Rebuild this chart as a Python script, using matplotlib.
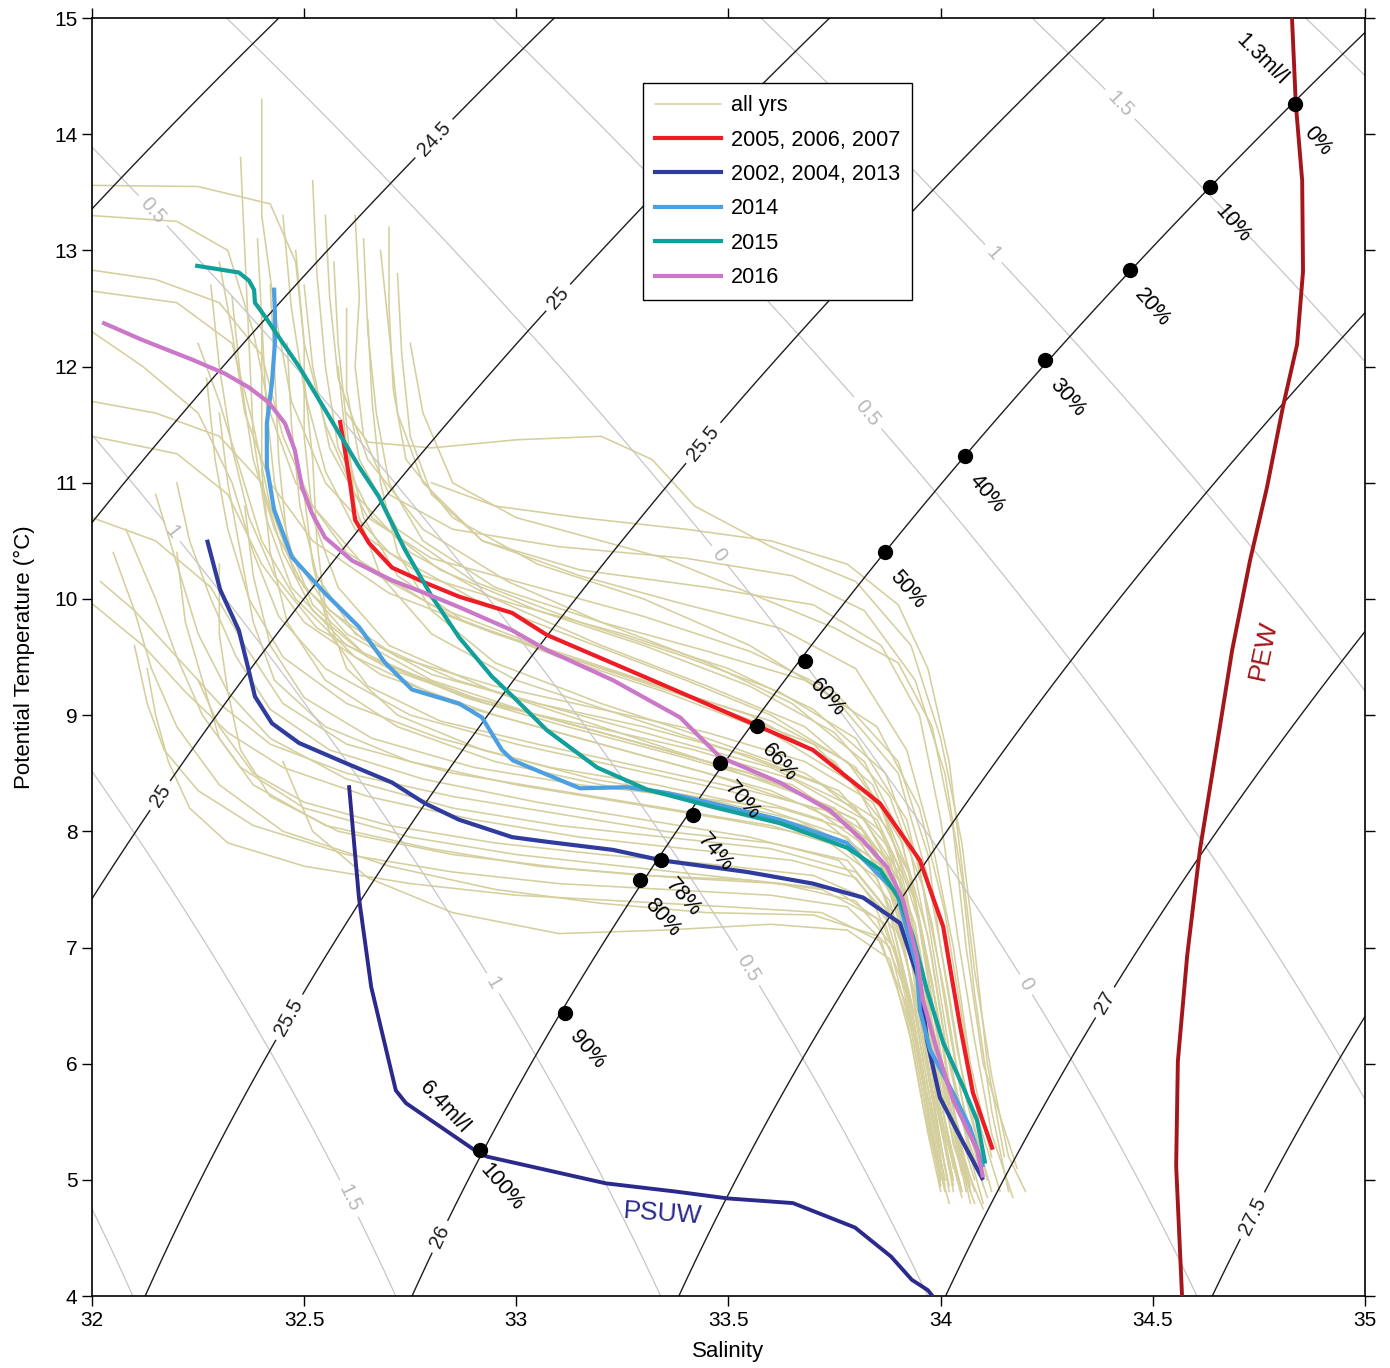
import numpy as np
import matplotlib
matplotlib.use("Agg")
import matplotlib.pyplot as plt
from matplotlib.lines import Line2D

plt.rcParams['font.family'] = ['Liberation Sans', 'DejaVu Sans']

# ---- data (salinity, potential temperature) ----
# all-years profiles, one list of (S, T) per profile
all_yrs = [
    # upper group
    [(32.62, 13.3), (32.63, 12.6), (32.62, 12.0), (32.64, 11.4), (32.70, 10.9), (32.85, 10.6), (33.1, 10.45),
     (33.4, 10.35), (33.65, 10.2), (33.82, 9.9), (33.94, 9.3), (34.01, 8.5), (34.05, 7.6), (34.08, 6.6),
     (34.12, 5.6), (34.16, 4.9)],
    [(32.6, 11.6), (32.65, 11.35), (32.8, 11.3), (33.0, 11.37), (33.2, 11.4), (33.32, 11.2), (33.42, 10.8),
     (33.6, 10.45), (33.8, 10.15), (33.93, 9.6), (34.0, 8.8), (34.05, 7.9), (34.08, 7.0), (34.11, 6.0),
     (34.15, 5.2)],
    [(32.68, 13.0), (32.7, 12.3), (32.72, 11.6), (32.78, 11.0), (32.92, 10.5), (33.15, 10.2), (33.4, 9.95),
     (33.62, 9.75), (33.8, 9.4), (33.92, 8.7), (33.98, 7.9), (34.03, 7.0), (34.07, 6.0), (34.12, 5.2)],
    [(32.5, 12.7), (32.52, 12.0), (32.56, 11.3), (32.65, 10.7), (32.8, 10.35), (33.05, 10.1), (33.3, 9.85),
     (33.55, 9.55), (33.75, 9.2), (33.9, 8.6), (33.97, 7.8), (34.0, 7.0), (34.04, 6.1), (34.09, 5.3),
     (34.12, 4.9)],
    [(32.45, 13.3), (32.47, 12.5), (32.5, 11.8), (32.55, 11.1), (32.62, 10.6), (32.78, 10.2), (33.0, 9.95),
     (33.25, 9.7), (33.5, 9.4), (33.7, 9.05), (33.87, 8.5), (33.95, 7.7), (33.99, 6.8), (34.03, 5.9),
     (34.08, 5.1)],
    [(32.75, 12.2), (32.78, 11.6), (32.85, 11.0), (33.0, 10.7), (33.2, 10.5), (33.35, 10.35), (33.55, 10.05),
     (33.75, 9.75), (33.9, 9.45), (33.98, 8.9), (34.03, 8.0), (34.06, 7.0), (34.1, 6.0), (34.18, 5.1)],
    [(32.8, 11.0), (32.95, 10.8), (33.15, 10.7), (33.4, 10.6), (33.6, 10.5), (33.78, 10.3), (33.9, 9.95),
     (33.97, 9.4), (34.02, 8.6), (34.05, 7.7), (34.08, 6.8), (34.12, 5.9), (34.16, 5.2), (34.2, 4.9)],
    [(32.72, 12.8), (32.73, 12.1), (32.75, 11.4), (32.8, 10.9), (32.92, 10.5), (33.15, 10.25), (33.45, 10.1),
     (33.7, 9.95), (33.86, 9.6), (33.95, 9.0), (34.0, 8.1), (34.04, 7.1), (34.08, 6.2), (34.12, 5.4),
     (34.17, 4.85)],
    [(32.64, 13.1), (32.65, 12.3), (32.67, 11.6), (32.7, 11.0), (32.78, 10.5), (32.95, 10.1), (33.2, 9.8),
     (33.45, 9.55), (33.68, 9.3), (33.85, 8.9), (33.95, 8.2), (34.01, 7.3), (34.05, 6.4), (34.09, 5.5),
     (34.14, 4.9)],
    # upper-middle group
    [(32.0, 13.56), (32.25, 13.55), (32.42, 13.4), (32.48, 12.9), (32.5, 12.2), (32.55, 11.5), (32.62, 10.9),
     (32.75, 10.4), (32.95, 10.0), (33.2, 9.6), (33.45, 9.25), (33.68, 8.9), (33.84, 8.4), (33.93, 7.6),
     (33.98, 6.7), (34.02, 5.8), (34.06, 5.0)],
    [(32.0, 13.3), (32.2, 13.25), (32.32, 13.0), (32.38, 12.3), (32.42, 11.6), (32.48, 11.0), (32.6, 10.4),
     (32.8, 9.95), (33.05, 9.6), (33.3, 9.3), (33.55, 9.0), (33.75, 8.6), (33.88, 8.0), (33.95, 7.2),
     (34.0, 6.3), (34.04, 5.4), (34.07, 4.9)],
    [(32.4, 14.3), (32.4, 13.3), (32.43, 12.5), (32.47, 11.7), (32.55, 11.0), (32.7, 10.4), (32.9, 10.0),
     (33.15, 9.65), (33.4, 9.3), (33.6, 9.0), (33.8, 8.55), (33.91, 7.9), (33.96, 7.0), (34.0, 6.1),
     (34.04, 5.3), (34.07, 4.8)],
    [(32.55, 13.3), (32.56, 12.6), (32.58, 11.9), (32.65, 11.2), (32.78, 10.6), (32.98, 10.15), (33.2, 9.8),
     (33.45, 9.45), (33.65, 9.1), (33.82, 8.6), (33.93, 7.8), (33.98, 6.9), (34.02, 6.0), (34.07, 5.2),
     (34.1, 4.8)],
    [(32.0, 12.83), (32.15, 12.75), (32.3, 12.55), (32.4, 12.1), (32.45, 11.4), (32.52, 10.8), (32.65, 10.25),
     (32.85, 9.85), (33.1, 9.5), (33.35, 9.2), (33.6, 8.85), (33.8, 8.4), (33.9, 7.7), (33.95, 6.8),
     (33.99, 5.9), (34.03, 5.1)],
    [(32.3, 12.9), (32.33, 12.3), (32.36, 11.6), (32.42, 11.0), (32.52, 10.5), (32.7, 10.05), (32.95, 9.7),
     (33.2, 9.4), (33.45, 9.1), (33.7, 8.75), (33.86, 8.2), (33.94, 7.4), (33.98, 6.5), (34.02, 5.6),
     (34.06, 4.9)],
    [(32.6, 12.5), (32.6, 11.8), (32.63, 11.2), (32.72, 10.6), (32.9, 10.15), (33.15, 9.8), (33.4, 9.5),
     (33.62, 9.2), (33.8, 8.8), (33.92, 8.1), (33.98, 7.2), (34.02, 6.3), (34.06, 5.5), (34.1, 5.0)],
    [(32.7, 13.2), (32.7, 12.5), (32.71, 11.8), (32.74, 11.2), (32.85, 10.7), (33.05, 10.3), (33.3, 10.0),
     (33.55, 9.6), (33.75, 9.15), (33.9, 8.5), (33.97, 7.6), (34.02, 6.6), (34.06, 5.7), (34.11, 5.0)],
    [(32.52, 13.6), (32.53, 12.8), (32.55, 12.0), (32.58, 11.3), (32.66, 10.7), (32.82, 10.25), (33.05, 9.9),
     (33.3, 9.6), (33.55, 9.25), (33.75, 8.85), (33.88, 8.3), (33.96, 7.5), (34.01, 6.6), (34.05, 5.7),
     (34.1, 4.95)],
    [(32.58, 12.0), (32.6, 11.3), (32.64, 10.7), (32.72, 10.2), (32.88, 9.8), (33.12, 9.5), (33.38, 9.2),
     (33.6, 8.95), (33.78, 8.6), (33.9, 8.0), (33.97, 7.1), (34.01, 6.2), (34.06, 5.4), (34.11, 4.85)],
    [(32.39, 13.1), (32.4, 12.4), (32.41, 11.7), (32.43, 11.0), (32.47, 10.4), (32.56, 9.9), (32.72, 9.5),
     (32.95, 9.25), (33.2, 9.05), (33.45, 8.85), (33.68, 8.6), (33.84, 8.25), (33.93, 7.6), (33.98, 6.7),
     (34.02, 5.8), (34.07, 4.95)],
    # middle group
    [(32.0, 12.65), (32.2, 12.55), (32.33, 12.2), (32.38, 11.5), (32.42, 10.8), (32.48, 10.2), (32.6, 9.7),
     (32.8, 9.3), (33.05, 9.0), (33.3, 8.75), (33.55, 8.5), (33.75, 8.2), (33.87, 7.7), (33.93, 6.9),
     (33.97, 6.0), (34.0, 5.2)],
    [(32.0, 11.7), (32.15, 11.6), (32.3, 11.4), (32.4, 11.0), (32.45, 10.4), (32.52, 9.9), (32.65, 9.5),
     (32.9, 9.15), (33.15, 8.9), (33.4, 8.65), (33.65, 8.4), (33.82, 8.0), (33.92, 7.3), (33.97, 6.4),
     (34.01, 5.5), (34.05, 4.9)],
    [(32.35, 13.8), (32.36, 13.0), (32.37, 12.2), (32.38, 11.4), (32.41, 10.7), (32.47, 10.1), (32.6, 9.6),
     (32.85, 9.2), (33.1, 8.95), (33.35, 8.7), (33.6, 8.45), (33.8, 8.1), (33.9, 7.5), (33.95, 6.6),
     (33.99, 5.7), (34.03, 5.0)],
    [(32.48, 13.0), (32.5, 12.2), (32.5, 11.4), (32.52, 10.7), (32.58, 10.1), (32.7, 9.6), (32.95, 9.2),
     (33.2, 8.9), (33.45, 8.6), (33.68, 8.3), (33.84, 7.9), (33.93, 7.1), (33.97, 6.2), (34.01, 5.4),
     (34.05, 4.85)],
    [(32.25, 12.2), (32.3, 11.7), (32.35, 11.1), (32.4, 10.5), (32.48, 10.0), (32.62, 9.5), (32.85, 9.1),
     (33.1, 8.85), (33.35, 8.6), (33.6, 8.35), (33.78, 8.05), (33.89, 7.5), (33.95, 6.6), (33.99, 5.7),
     (34.04, 5.0)],
    [(32.57, 12.9), (32.58, 12.2), (32.6, 11.5), (32.62, 10.8), (32.68, 10.2), (32.8, 9.7), (33.0, 9.3),
     (33.25, 9.0), (33.5, 8.7), (33.72, 8.4), (33.86, 8.0), (33.94, 7.2), (33.98, 6.3), (34.03, 5.5),
     (34.08, 4.9)],
    [(32.0, 11.4), (32.2, 11.25), (32.32, 10.9), (32.4, 10.3), (32.5, 9.8), (32.68, 9.35), (32.95, 9.0),
     (33.2, 8.75), (33.45, 8.5), (33.7, 8.2), (33.85, 7.8), (33.93, 7.0), (33.97, 6.1), (34.01, 5.3),
     (34.03, 4.9)],
    [(32.65, 12.4), (32.66, 11.7), (32.68, 11.0), (32.72, 10.4), (32.8, 9.9), (32.95, 9.45), (33.2, 9.1),
     (33.45, 8.8), (33.68, 8.5), (33.85, 8.1), (33.94, 7.4), (33.99, 6.5), (34.03, 5.6), (34.08, 5.0)],
    [(32.42, 12.7), (32.43, 12.0), (32.44, 11.2), (32.46, 10.5), (32.52, 9.95), (32.65, 9.5), (32.88, 9.15),
     (33.12, 8.9), (33.38, 8.65), (33.62, 8.4), (33.8, 8.1), (33.9, 7.6), (33.96, 6.7), (34.0, 5.8),
     (34.05, 5.05)],
    [(32.33, 12.6), (32.35, 11.9), (32.38, 11.2), (32.43, 10.6), (32.5, 10.1), (32.64, 9.65), (32.86, 9.3),
     (33.1, 9.05), (33.35, 8.8), (33.6, 8.55), (33.8, 8.2), (33.91, 7.6), (33.96, 6.8), (34.0, 5.9),
     (34.06, 5.0)],
    [(32.46, 12.2), (32.47, 11.5), (32.49, 10.8), (32.53, 10.2), (32.62, 9.7), (32.8, 9.35), (33.05, 9.1),
     (33.3, 8.9), (33.55, 8.65), (33.76, 8.35), (33.88, 7.85), (33.95, 7.0), (33.99, 6.1), (34.03, 5.3),
     (34.08, 4.8)],
    [(32.28, 12.7), (32.3, 12.0), (32.33, 11.3), (32.37, 10.7), (32.43, 10.2), (32.53, 9.75), (32.7, 9.4),
     (32.93, 9.1), (33.18, 8.9), (33.42, 8.7), (33.65, 8.45), (33.82, 8.1), (33.92, 7.45), (33.97, 6.5),
     (34.02, 5.6), (34.07, 4.9)],
    [(32.0, 12.3), (32.12, 12.0), (32.25, 11.6), (32.33, 11.0), (32.38, 10.4), (32.44, 9.85), (32.55, 9.4),
     (32.75, 9.0), (33.0, 8.75), (33.25, 8.55), (33.5, 8.35), (33.72, 8.1), (33.86, 7.7), (33.93, 6.9),
     (33.97, 6.0), (34.01, 5.1)],
    # lower-middle group
    [(32.0, 10.7), (32.15, 10.5), (32.28, 10.1), (32.36, 9.6), (32.45, 9.1), (32.6, 8.75), (32.85, 8.5),
     (33.1, 8.35), (33.35, 8.2), (33.6, 8.05), (33.78, 7.85), (33.88, 7.4), (33.94, 6.6), (33.98, 5.8),
     (34.02, 5.1)],
    [(32.02, 10.15), (32.1, 9.9), (32.2, 9.5), (32.3, 9.1), (32.42, 8.75), (32.6, 8.5), (32.85, 8.3),
     (33.1, 8.15), (33.35, 8.0), (33.6, 7.9), (33.78, 7.75), (33.88, 7.3), (33.93, 6.5), (33.97, 5.7),
     (34.01, 5.0)],
    [(32.3, 11.6), (32.32, 11.0), (32.35, 10.4), (32.38, 9.8), (32.43, 9.3), (32.55, 8.9), (32.75, 8.6),
     (33.0, 8.4), (33.25, 8.25), (33.5, 8.1), (33.72, 7.95), (33.85, 7.6), (33.92, 6.9), (33.96, 6.0),
     (34.0, 5.2)],
    [(32.4, 12.5), (32.4, 11.8), (32.4, 11.1), (32.42, 10.4), (32.46, 9.8), (32.55, 9.3), (32.72, 8.9),
     (32.95, 8.6), (33.2, 8.4), (33.45, 8.25), (33.68, 8.05), (33.83, 7.75), (33.91, 7.1), (33.95, 6.3),
     (33.99, 5.5), (34.02, 4.95)],
    [(32.5, 11.9), (32.52, 11.2), (32.53, 10.5), (32.55, 9.9), (32.6, 9.4), (32.72, 9.0), (32.92, 8.7),
     (33.18, 8.45), (33.42, 8.3), (33.66, 8.1), (33.83, 7.8), (33.92, 7.2), (33.97, 6.3), (34.01, 5.5),
     (34.05, 4.9)],
    [(32.2, 11.0), (32.23, 10.5), (32.28, 10.0), (32.34, 9.5), (32.42, 9.05), (32.56, 8.7), (32.78, 8.45),
     (33.05, 8.25), (33.3, 8.1), (33.55, 7.95), (33.76, 7.75), (33.87, 7.3), (33.93, 6.5), (33.97, 5.6),
     (34.0, 4.95)],
    [(32.0, 9.96), (32.12, 9.6), (32.22, 9.2), (32.32, 8.85), (32.45, 8.55), (32.65, 8.3), (32.9, 8.1),
     (33.15, 7.95), (33.4, 7.85), (33.65, 7.75), (33.8, 7.6), (33.89, 7.15), (33.94, 6.4), (33.98, 5.6),
     (34.01, 4.95)],
    [(32.27, 11.9), (32.29, 11.2), (32.32, 10.6), (32.37, 10.0), (32.45, 9.5), (32.6, 9.1), (32.82, 8.8),
     (33.08, 8.55), (33.33, 8.4), (33.58, 8.2), (33.78, 7.95), (33.89, 7.45), (33.95, 6.6), (33.99, 5.7),
     (34.03, 4.95)],
    [(32.36, 10.8), (32.38, 10.2), (32.42, 9.6), (32.5, 9.15), (32.66, 8.8), (32.9, 8.55), (33.15, 8.4),
     (33.4, 8.3), (33.62, 8.2), (33.8, 8.0), (33.9, 7.5), (33.96, 6.6), (34.0, 5.7), (34.04, 5.0)],
    [(32.5, 10.9), (32.52, 10.3), (32.56, 9.7), (32.65, 9.25), (32.82, 8.95), (33.05, 8.75), (33.3, 8.55),
     (33.55, 8.35), (33.76, 8.15), (33.88, 7.75), (33.95, 6.9), (34.0, 6.0), (34.05, 5.2), (34.1, 4.75)],
    [(32.15, 10.9), (32.2, 10.3), (32.25, 9.7), (32.32, 9.2), (32.42, 8.8), (32.6, 8.45), (32.85, 8.2),
     (33.1, 8.05), (33.35, 7.95), (33.6, 7.85), (33.8, 7.65), (33.9, 7.2), (33.95, 6.4), (33.99, 5.5),
     (34.02, 4.9)],
    # lower group
    [(32.13, 9.4), (32.15, 9.0), (32.18, 8.6), (32.23, 8.2), (32.32, 7.9), (32.5, 7.7), (32.75, 7.55),
     (33.0, 7.45), (33.25, 7.4), (33.5, 7.35), (33.72, 7.3), (33.86, 7.05), (33.92, 6.4), (33.96, 5.6),
     (34.0, 5.0)],
    [(32.1, 9.6), (32.13, 9.1), (32.17, 8.7), (32.25, 8.35), (32.38, 8.05), (32.6, 7.8), (32.85, 7.65),
     (33.1, 7.55), (33.35, 7.5), (33.6, 7.45), (33.78, 7.35), (33.88, 7.0), (33.93, 6.3), (33.97, 5.5),
     (34.0, 4.95)],
    [(32.08, 10.6), (32.15, 10.0), (32.2, 9.5), (32.26, 9.0), (32.35, 8.55), (32.5, 8.2), (32.75, 7.95),
     (33.0, 7.8), (33.25, 7.7), (33.5, 7.6), (33.72, 7.5), (33.85, 7.25), (33.92, 6.6), (33.96, 5.8),
     (34.0, 5.1)],
    [(32.3, 10.3), (32.3, 9.7), (32.32, 9.2), (32.35, 8.7), (32.42, 8.3), (32.58, 8.0), (32.85, 7.8),
     (33.12, 7.68), (33.38, 7.6), (33.62, 7.55), (33.8, 7.4), (33.89, 7.0), (33.94, 6.2), (33.98, 5.4),
     (34.01, 4.9)],
    [(32.45, 8.6), (32.52, 8.0), (32.65, 7.6), (32.85, 7.3), (33.1, 7.12), (33.35, 7.15), (33.6, 7.2),
     (33.78, 7.15), (33.88, 6.9), (33.93, 6.2), (33.97, 5.4), (34.0, 4.9)],
    [(32.2, 10.4), (32.22, 9.8), (32.26, 9.3), (32.3, 8.8), (32.38, 8.4), (32.55, 8.05), (32.8, 7.85),
     (33.05, 7.7), (33.3, 7.62), (33.55, 7.58), (33.75, 7.5), (33.87, 7.2), (33.93, 6.5), (33.97, 5.7),
     (34.01, 5.0)],
    [(32.05, 10.4), (32.1, 9.9), (32.14, 9.4), (32.2, 8.9), (32.3, 8.4), (32.45, 8.0), (32.7, 7.7),
     (32.95, 7.5), (33.2, 7.38), (33.45, 7.3), (33.7, 7.28), (33.85, 7.1), (33.92, 6.5), (33.96, 5.7),
     (34.0, 5.0)],
    [(32.25, 9.3), (32.3, 8.9), (32.38, 8.5), (32.5, 8.25), (32.7, 8.05), (32.95, 7.9), (33.2, 7.8),
     (33.45, 7.72), (33.7, 7.62), (33.84, 7.4), (33.91, 6.8), (33.95, 6.0), (33.99, 5.2), (34.02, 4.8)],
]

red_S = [32.584, 32.596, 32.608, 32.620, 32.653, 32.707, 32.785, 32.865, 32.990, 33.072, 33.308, 33.567,
         33.699, 33.857, 33.951, 34.006, 34.022, 34.046, 34.076, 34.123]
red_T = [11.54, 11.28, 11.00, 10.68, 10.48, 10.27, 10.14, 10.02, 9.88, 9.69, 9.32, 8.91,
         8.70, 8.24, 7.75, 7.18, 6.83, 6.32, 5.75, 5.26]

dblue_S = [32.271, 32.302, 32.346, 32.365, 32.384, 32.424, 32.488, 32.596, 32.707, 32.785, 32.865, 32.990,
           33.072, 33.228, 33.343, 33.544, 33.699, 33.817, 33.904, 33.951, 33.968, 33.998, 34.046, 34.100]
dblue_T = [10.51, 10.08, 9.73, 9.45, 9.16, 8.93, 8.76, 8.59, 8.42, 8.24, 8.10, 7.95,
           7.91, 7.84, 7.75, 7.65, 7.55, 7.43, 7.21, 6.69, 6.20, 5.71, 5.37, 5.00]

lblue_S = [32.429, 32.431, 32.431, 32.424, 32.412, 32.412, 32.429, 32.471, 32.549, 32.629, 32.691, 32.754,
           32.865, 32.919, 32.966, 32.992, 33.150, 33.261, 33.355, 33.463, 33.621, 33.779, 33.897, 33.944,
           33.951, 33.975, 34.029, 34.069, 34.100]
lblue_T = [12.68, 12.46, 12.20, 11.86, 11.51, 11.14, 10.77, 10.36, 10.05, 9.76, 9.45, 9.22,
           9.10, 8.98, 8.70, 8.61, 8.37, 8.38, 8.33, 8.24, 8.10, 7.90, 7.47, 6.83,
           6.46, 6.12, 5.75, 5.45, 5.11]

teal_S = [32.243, 32.346, 32.370, 32.382, 32.384, 32.408, 32.441, 32.488, 32.549, 32.629, 32.676, 32.738,
          32.801, 32.865, 32.943, 32.992, 33.072, 33.190, 33.308, 33.463, 33.621, 33.779, 33.857, 33.904,
          33.935, 33.968, 34.006, 34.053, 34.086, 34.105]
teal_T = [12.87, 12.81, 12.74, 12.66, 12.55, 12.43, 12.25, 12.00, 11.63, 11.14, 10.88, 10.42,
          10.02, 9.67, 9.33, 9.16, 8.87, 8.55, 8.36, 8.21, 8.07, 7.86, 7.67, 7.41,
          7.09, 6.63, 6.18, 5.80, 5.51, 5.14]

pink_S = [32.024, 32.118, 32.236, 32.313, 32.370, 32.417, 32.455, 32.478, 32.495, 32.518, 32.549, 32.613,
          32.707, 32.785, 32.865, 32.990, 33.072, 33.228, 33.386, 33.480, 33.621, 33.739, 33.817, 33.874,
          33.911, 33.944, 33.958, 33.991, 34.029, 34.086, 34.100]
pink_T = [12.38, 12.23, 12.06, 11.94, 11.82, 11.69, 11.51, 11.28, 10.96, 10.74, 10.53, 10.33,
          10.16, 10.05, 9.93, 9.73, 9.56, 9.30, 8.98, 8.64, 8.42, 8.18, 7.92, 7.69,
          7.41, 6.92, 6.55, 6.12, 5.69, 5.26, 5.02]

psuw_S = [32.606, 32.629, 32.658, 32.716, 32.740, 32.912, 32.931, 33.211, 33.374, 33.499, 33.652, 33.798,
          33.883, 33.932, 33.970, 33.985]
psuw_T = [8.38, 7.43, 6.66, 5.77, 5.66, 5.23, 5.20, 4.97, 4.90, 4.84, 4.80, 4.59,
          4.34, 4.14, 4.05, 3.98]

pew_S = [34.828, 34.837, 34.852, 34.854, 34.840, 34.807, 34.769, 34.729, 34.687, 34.651, 34.611, 34.581,
         34.559, 34.555, 34.569]
pew_T = [15.0, 14.26, 13.60, 12.82, 12.19, 11.66, 10.96, 10.33, 9.56, 8.74, 7.84, 6.93,
         6.02, 5.12, 3.99]

mix_pct = ['0%', '10%', '20%', '30%', '40%', '50%', '60%', '66%', '70%', '74%', '78%', '80%', '90%', '100%']
mix_S = [34.835, 34.635, 34.446, 34.246, 34.057, 33.869, 33.680, 33.567, 33.480, 33.416, 33.341, 33.291,
         33.115, 32.914]
mix_T = [14.26, 13.55, 12.83, 12.06, 11.23, 10.40, 9.47, 8.91, 8.59, 8.14, 7.75, 7.58, 6.44, 5.26]

sig_levels = np.arange(24.0, 27.51, 0.5)
sig_label_pos = [(32.81, 13.95), (33.10, 12.59), (32.16, 8.31), (33.445, 11.33), (32.47, 6.39),
                 (32.82, 4.51), (34.376, 6.55), (34.73, 4.70)]
spice_levels = np.arange(-2.0, 2.01, 0.5)
spice_label_pos = [(32.13, 13.30), (32.18, 10.55), (32.94, 6.68), (32.60, 4.83), (33.54, 6.81),
                   (33.48, 10.38), (34.20, 6.68), (33.82, 11.58), (34.12, 12.96), (34.42, 14.25)]


def sigma_theta(S, T):
    """EOS-80 density at the surface minus 1000"""
    rw = (999.842594 + 6.793952e-2 * T - 9.095290e-3 * T**2 + 1.001685e-4 * T**3
          - 1.120083e-6 * T**4 + 6.536332e-9 * T**5)
    A = 8.24493e-1 - 4.0899e-3 * T + 7.6438e-5 * T**2 - 8.2467e-7 * T**3 + 5.3875e-9 * T**4
    B = -5.72466e-3 + 1.0227e-4 * T - 1.6546e-6 * T**2
    return rw + A * S + B * S**1.5 + 4.8314e-4 * S**2 - 1000.0


def spiciness(S, T):
    """Flament (2002) spiciness"""
    b = [[0, 7.7442e-01, -5.85e-03, -9.84e-04, -2.06e-04],
         [5.1655e-02, 2.034e-03, -2.742e-04, -8.5e-06, 1.36e-05],
         [6.64783e-03, -2.4681e-04, -1.428e-05, 3.337e-05, 7.894e-06],
         [-5.4023e-05, 7.326e-06, 7.0036e-06, -3.0412e-06, -1.0853e-06],
         [3.949e-07, -3.029e-08, -3.8209e-07, 1.0012e-07, 4.7133e-08],
         [-6.36e-10, -1.309e-09, 6.048e-09, -1.1409e-09, -6.676e-10]]
    s = S - 35.0
    out = np.zeros_like(S)
    for i in range(6):
        for j in range(5):
            out += b[i][j] * T**i * s**j
    return out


fig = plt.figure(figsize=(13.9, 13.68), dpi=100)
ax = fig.add_axes([0.0662, 0.0526, 0.9158, 0.9342])

Sg, Tg = np.meshgrid(np.linspace(31.9, 35.1, 400), np.linspace(3.9, 15.1, 400))

# all-years profiles go underneath the contour grid
beige = '#d5cf9e'
for prof in all_yrs:
    ps, pt = zip(*prof)
    ax.plot(ps, pt, color=beige, lw=1.15, zorder=1)

sp = ax.contour(Sg, Tg, spiciness(Sg, Tg), levels=spice_levels, colors='#c6c6c6',
                linewidths=0.9, linestyles='solid', negative_linestyles='solid', zorder=2)
ax.clabel(sp, manual=spice_label_pos, fmt=lambda v: f'{abs(v):g}', fontsize=14.5,
          inline=True, inline_spacing=6, colors='#b8b8b8')

sg = ax.contour(Sg, Tg, sigma_theta(Sg, Tg), levels=sig_levels, colors='#1e1e1e',
                linewidths=1.0, zorder=2.5)
ax.clabel(sg, manual=sig_label_pos, fmt='%g', fontsize=14.5, inline=True, inline_spacing=6)

ax.plot(psuw_S, psuw_T, color='#2b2a8c', lw=2.8, zorder=3)
ax.plot(pew_S, pew_T, color='#a3161a', lw=2.8, zorder=3)

series = [
    (red_S, red_T, '#ee1c24', '2005, 2006, 2007'),
    (dblue_S, dblue_T, '#2f3c9e', '2002, 2004, 2013'),
    (lblue_S, lblue_T, '#4c9fe0', '2014'),
    (teal_S, teal_T, '#12a09a', '2015'),
    (pink_S, pink_T, '#cb78c8', '2016'),
]
handles = [Line2D([], [], color=beige, lw=1.1)]
labels = ['all yrs']
for s, t, c, lab in series:
    ax.plot(s, t, color=c, lw=3.0, zorder=4, solid_capstyle='butt')
    handles.append(Line2D([], [], color=c, lw=3.0))
    labels.append(lab)

ax.plot(mix_S, mix_T, 'o', color='black', markersize=10, zorder=6)
for s, t, lab in zip(mix_S, mix_T, mix_pct):
    ax.annotate(lab, (s, t), xytext=(16, -27), textcoords='offset points', ha='center',
                va='center', rotation=-49, fontsize=15.5, zorder=7)

ax.text(34.757, 14.64, '1.3ml/l', rotation=-45, ha='center', va='center', fontsize=15.5)
ax.text(32.83, 5.62, '6.4ml/l', rotation=-47, ha='center', va='center', fontsize=15.5)
ax.text(33.346, 4.71, 'PSUW', color='#2b2a8c', rotation=-4, ha='center', va='center', fontsize=19)
ax.text(34.76, 9.56, 'PEW', color='#a3161a', rotation=78, ha='center', va='center', fontsize=19)

leg = ax.legend(handles, labels, loc='upper left', bbox_to_anchor=(0.433, 0.949), fontsize=15.6,
                frameon=True, fancybox=False, edgecolor='black', framealpha=1, handlelength=3.05,
                labelspacing=0.62, borderpad=0.55, handletextpad=0.45, borderaxespad=0)
leg.get_frame().set_linewidth(1.0)
leg.set_zorder(10)

ax.set_xlim(32, 35)
ax.set_ylim(4, 15)
ax.set_xticks(np.arange(32, 35.01, 0.5))
ax.set_xticklabels(['32', '32.5', '33', '33.5', '34', '34.5', '35'])
ax.set_yticks(np.arange(4, 16))
ax.tick_params(direction='out', length=7, width=1.0, labelsize=15, top=True, right=True)
for sp_ in ax.spines.values():
    sp_.set_linewidth(1.2)
ax.set_xlabel('Salinity', fontsize=16, labelpad=8)
ax.set_ylabel('Potential Temperature (°C)', fontsize=16, labelpad=14)

fig.savefig('out.png', dpi=100)
